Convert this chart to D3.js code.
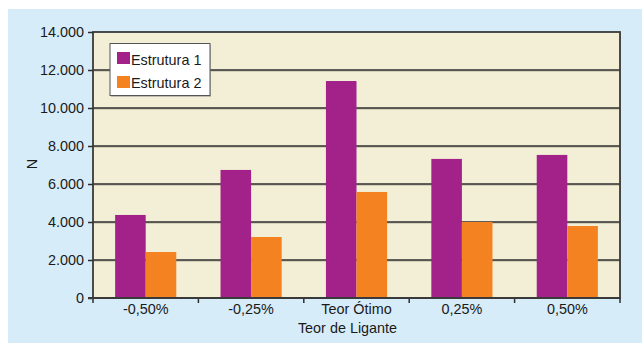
<!DOCTYPE html>
<html>
<head>
<meta charset="utf-8">
<script src="https://cdn.jsdelivr.net/npm/d3@7/dist/d3.min.js"></script>
<style>
  html, body { margin: 0; padding: 0; background: #ffffff; }
  svg { display: block; }
  text { font-family: "Liberation Sans", Arial, sans-serif; fill: #1a1a1a; }
</style>
</head>
<body>
<svg id="chart" width="642" height="343"></svg>
<script>
// Teor de ligante categories and the N values for each structure
const categories = ["-0,50%", "-0,25%", "Teor Ótimo", "0,25%", "0,50%"];
const seriesNames = ["Estrutura 1", "Estrutura 2"];
const estrutura1 = [4370, 6740, 11420, 7320, 7530];
const estrutura2 = [2420, 3210, 5580, 4000, 3790];
const yTicks = [0, 2000, 4000, 6000, 8000, 10000, 12000, 14000];
const colors = ["#A2228A", "#F58220"];

const svg = d3.select("#chart");
const W = 642, H = 343;
const m = { left: 93, top: 32, right: 620, bottom: 298 };

// outer panel
svg.append("rect").attr("x", 8).attr("y", 9).attr("width", W - 8).attr("height", H - 9)
  .attr("fill", "#D6ECF9");

const x0 = d3.scaleBand().domain(categories).range([m.left, m.right]).paddingInner(0.42).paddingOuter(0.21);
const x1 = d3.scaleBand().domain(seriesNames).range([0, x0.bandwidth()]);
const y = d3.scaleLinear().domain([0, 14000]).range([m.bottom, m.top]);

// plot area
svg.append("rect").attr("x", m.left + 1).attr("y", m.top + 1)
  .attr("width", m.right - m.left).attr("height", m.bottom - m.top)
  .attr("fill", "#9a9a9a").attr("opacity", 0.6);
svg.append("rect").attr("x", m.left).attr("y", m.top)
  .attr("width", m.right - m.left).attr("height", m.bottom - m.top)
  .attr("fill", "#F3EED6");

// gridlines
const grid = svg.append("g");
grid.selectAll("line.sh").data(yTicks.filter(d => d > 0 && d < 14000)).join("line")
  .attr("x1", m.left).attr("x2", m.right)
  .attr("y1", d => y(d) + 1).attr("y2", d => y(d) + 1)
  .attr("stroke", "#b5b09c").attr("stroke-width", 1);
grid.selectAll("line.g").data(yTicks.filter(d => d > 0 && d < 14000)).join("line")
  .attr("x1", m.left).attr("x2", m.right)
  .attr("y1", d => y(d)).attr("y2", d => y(d))
  .attr("stroke", "#2e2e2e").attr("stroke-width", 1.5);

// bars
const rows = categories.map((c, i) => ({ cat: c, vals: [estrutura1[i], estrutura2[i]] }));
svg.append("g").selectAll("g").data(rows).join("g")
  .attr("transform", d => `translate(${x0(d.cat)},0)`)
  .selectAll("rect").data(d => d.vals.map((v, k) => ({ name: seriesNames[k], v, k })))
  .join("rect")
  .attr("x", d => x1(d.name)).attr("width", x1.bandwidth())
  .attr("y", d => y(d.v)).attr("height", d => y(0) - y(d.v))
  .attr("fill", d => colors[d.k]);

// frame
svg.append("rect").attr("x", m.left).attr("y", m.top)
  .attr("width", m.right - m.left).attr("height", m.bottom - m.top)
  .attr("fill", "none").attr("stroke", "#3a3a3a").attr("stroke-width", 1.8);

// y axis
const yAxis = svg.append("g").attr("transform", `translate(${m.left},0)`)
  .call(d3.axisLeft(y).tickValues(yTicks).tickSize(5).tickPadding(4)
    .tickFormat(d => d3.format(",")(d).replace(/,/g, ".")));
yAxis.select(".domain").remove();
yAxis.selectAll(".tick line").attr("stroke", "#2e2e2e").attr("stroke-width", 1.5);
yAxis.selectAll(".tick text").attr("font-size", "14.4px").attr("fill", "#1a1a1a")
  .attr("font-family", "Liberation Sans, Arial, sans-serif");

// x axis with ticks at category boundaries
const xAxis = svg.append("g").attr("transform", `translate(0,${m.bottom})`)
  .call(d3.axisBottom(x0).tickSize(0).tickPadding(6));
xAxis.select(".domain").remove();
xAxis.selectAll(".tick text").attr("font-size", "14.4px").attr("fill", "#1a1a1a")
  .attr("font-family", "Liberation Sans, Arial, sans-serif");
const step = x0.step();
const bounds = d3.range(categories.length + 1).map(i => m.left + i * (m.right - m.left) / categories.length);
svg.append("g").selectAll("line").data(bounds).join("line")
  .attr("x1", d => d).attr("x2", d => d)
  .attr("y1", m.bottom).attr("y2", m.bottom + 5)
  .attr("stroke", "#2e2e2e").attr("stroke-width", 1.5);
svg.append("line").attr("x1", m.left - 5).attr("x2", m.right)
  .attr("y1", m.bottom).attr("y2", m.bottom)
  .attr("stroke", "#3a3a3a").attr("stroke-width", 1.8);

// axis titles
svg.append("text").attr("x", 347.5).attr("y", 333).attr("text-anchor", "middle")
  .attr("font-size", "14.4px").text("Teor de Ligante");
svg.append("text").attr("transform", "translate(37,164) rotate(-90)").attr("text-anchor", "middle")
  .attr("font-size", "14.4px").text("N");

// legend
const lg = svg.append("g");
lg.append("rect").attr("x", 111).attr("y", 45).attr("width", 100).attr("height", 52)
  .attr("fill", "#8a8a8a").attr("opacity", 0.5);
lg.append("rect").attr("x", 110).attr("y", 43.5).attr("width", 100).attr("height", 52)
  .attr("fill", "#ffffff").attr("stroke", "#555555").attr("stroke-width", 1);
seriesNames.forEach((s, i) => {
  lg.append("rect").attr("x", 117).attr("y", 52 + i * 24).attr("width", 13).attr("height", 12)
    .attr("fill", colors[i]);
  lg.append("text").attr("x", 131).attr("y", 64.5 + i * 23.5).attr("font-size", "14.4px").text(s);
});
</script>
</body>
</html>
